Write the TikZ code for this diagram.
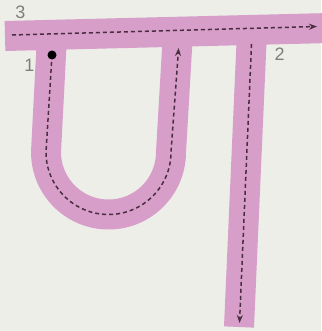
\documentclass[tikz,border=0pt]{standalone}
\usepackage{fontspec}
\setmainfont{Liberation Sans}
\usetikzlibrary{arrows.meta}
\definecolor{pabg}{RGB}{238,238,233}
\definecolor{papink}{RGB}{214,158,200}
\definecolor{paink}{RGB}{72,46,64}
\definecolor{pagrey}{RGB}{125,125,125}
\tikzset{
  paband/.style={line width=30pt, draw=papink, line cap=butt, line join=round},
  padash/.style={line width=1.5pt, draw=paink, dash pattern=on 4pt off 3pt},
  patip/.style={-{Stealth[length=8pt,width=6pt]}},
  padot/.style={fill=black, draw=none},
  palabel/.style={text=pagrey, font=\fontsize{18}{18}\selectfont, inner sep=0pt},
}

\begin{document}
\begin{tikzpicture}[x=1pt,y=-1pt]
\fill[pabg] (0,0) rectangle (321,331);
\useasboundingbox (0,0) rectangle (321,331);
\draw[paband] (5,36) -- (330,28);
\draw[paband] (52,36) -- (46,152) arc[start angle=180, end angle=0, radius=62.5] -- (178,32);
\draw[paband] (252,31) -- (239,327);
\draw[padash, patip] (12,35) -- (317,26.5);
\draw[padash, patip] (52,55) -- (46,152) arc[start angle=180, end angle=0, radius=62.5] -- (178.6,48);
\draw[padash, patip] (251.5,44) -- (239.5,323);
\fill[padot] (52,55) circle (4.5);
\node[palabel] (n3) at (20.5,12.5) {3};
\node[palabel] (n1) at (29.5,65) {1};
\node[palabel] (n2) at (279.5,54) {2};
\end{tikzpicture}
\end{document}
